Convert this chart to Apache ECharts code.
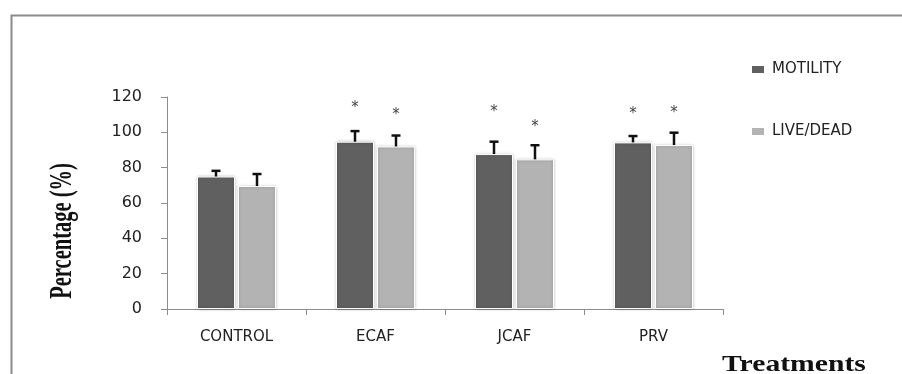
<!DOCTYPE html>
<html>
<head>
<meta charset="utf-8">
<script src="https://cdn.jsdelivr.net/npm/echarts@6/dist/echarts.min.js"></script>
<style>
html,body{margin:0;padding:0;background:#fff;}
#chart{width:902px;height:374px;}
</style>
</head>
<body>
<div id="chart"></div>
<script>
// ---- data ----
const categories = ['CONTROL', 'ECAF', 'JCAF', 'PRV'];
const seriesNames = ['MOTILITY', 'LIVE/DEAD'];
const motility = [75, 94.7, 87.7, 94.3];
const liveDead = [69.6, 92, 84.7, 92.8];
const motilityErr = [3.2, 6, 7, 3.6];
const liveDeadErr = [6.8, 6.2, 8, 7];
// y-position (in axis units) of the significance asterisks, null = none
const motilityStar = [null, 115.5, 113.2, 112.1];
const liveDeadStar = [null, 111.5, 104.5, 112.6];
const yTicks = [0, 20, 40, 60, 80, 100, 120];
const yTitle = 'Percentage (%)';
const xTitle = 'Treatments';

// ---- style ----
const colors = ['#606060', '#b3b3b3'];
const BAR_W = 38;
const BAR_GAP_PX = 3;
const OFFSET = (BAR_W + BAR_GAP_PX) / 2;

const chart = echarts.init(document.getElementById('chart'), null, {renderer: 'canvas'});

function errItem(dir) {
  return function (params, api) {
    const i = api.value(0);
    const v = api.value(1);
    const e = api.value(2);
    const p0 = api.coord([i, v]);
    const p1 = api.coord([i, v + e]);
    const x = p0[0] + dir * OFFSET;
    return {
      type: 'group',
      children: [
        {type: 'line', shape: {x1: x, y1: p0[1], x2: x, y2: p1[1]},
         style: {stroke: '#111', lineWidth: 2.5}},
        {type: 'line', shape: {x1: x - 4.5, y1: p1[1], x2: x + 4.5, y2: p1[1]},
         style: {stroke: '#111', lineWidth: 2.5}}
      ]
    };
  };
}
function starItem(dir) {
  return function (params, api) {
    const i = api.value(0);
    const y = api.value(1);
    const p = api.coord([i, y]);
    return {
      type: 'text',
      x: p[0] + dir * OFFSET,
      y: p[1] + 3,
      style: {text: '*', fill: '#444', font: '15px "DejaVu Sans"', align: 'center', verticalAlign: 'middle'}
    };
  };
}

const errDataM = categories.map((c, i) => [i, motility[i], motilityErr[i]]);
const errDataL = categories.map((c, i) => [i, liveDead[i], liveDeadErr[i]]);
const starDataM = categories.map((c, i) => [i, motilityStar[i]]).filter(d => d[1] != null);
const starDataL = categories.map((c, i) => [i, liveDeadStar[i]]).filter(d => d[1] != null);

const barItemStyle = (c) => ({
  color: c, borderColor: '#ffffff', borderWidth: 1,
  shadowBlur: 3, shadowColor: 'rgba(0,0,0,0.25)', shadowOffsetX: 0, shadowOffsetY: 0
});

const option = {
  animation: false,
  backgroundColor: '#ffffff',
  grid: {left: 167, right: 179, top: 97, bottom: 65, containLabel: false},
  legend: {
    data: seriesNames,
    orient: 'vertical',
    left: 745, top: 57,
    itemWidth: 14, itemHeight: 9, itemGap: 47,
    icon: 'rect',
    textStyle: {fontFamily: 'DejaVu Sans', fontSize: 15, color: '#222', padding: [0, 0, 0, 2]}
  },
  xAxis: {
    type: 'category',
    data: categories,
    boundaryGap: true,
    axisLine: {lineStyle: {color: '#8c8c8c', width: 1}},
    axisTick: {show: true, length: 6, alignWithLabel: false, lineStyle: {color: '#8c8c8c'}},
    axisLabel: {fontFamily: 'DejaVu Sans', fontSize: 15, color: '#222', margin: 21}
  },
  yAxis: {
    type: 'value',
    min: yTicks[0], max: yTicks[yTicks.length - 1], interval: yTicks[1] - yTicks[0],
    axisLine: {show: true, lineStyle: {color: '#8c8c8c', width: 1}},
    axisTick: {show: true, length: 6, lineStyle: {color: '#8c8c8c'}},
    splitLine: {show: false},
    axisLabel: {fontFamily: 'DejaVu Sans', fontSize: 16, color: '#222', margin: 25}
  },
  graphic: [
    {type: 'rect', left: 9, top: 13, z: -10,
     shape: {x: 0, y: 0, width: 1000, height: 500},
     style: {fill: 'none', stroke: '#8a8a8a', lineWidth: 2}},
    {type: 'text', x: 63, y: 231, rotation: Math.PI / 2, scaleX: 0.64, scaleY: 1,
     style: {text: yTitle, font: 'bold 32px "Liberation Serif"', fill: '#111',
             align: 'center', verticalAlign: 'middle'}},
    {type: 'text', x: 722, y: 365, scaleX: 1.29, scaleY: 1,
     style: {text: xTitle, font: 'bold 23px "Liberation Serif"', fill: '#111',
             align: 'left', verticalAlign: 'middle'}}
  ],
  series: [
    {name: seriesNames[0], type: 'bar', data: motility, barWidth: BAR_W, barGap: (BAR_GAP_PX / BAR_W * 100) + '%',
     itemStyle: barItemStyle(colors[0])},
    {name: seriesNames[1], type: 'bar', data: liveDead, barWidth: BAR_W,
     itemStyle: barItemStyle(colors[1])},
    {type: 'custom', renderItem: errItem(-1), data: errDataM, z: 5, encode: {x: 0, y: 1}},
    {type: 'custom', renderItem: errItem(1), data: errDataL, z: 5, encode: {x: 0, y: 1}},
    {type: 'custom', renderItem: starItem(-1), data: starDataM, z: 5, encode: {x: 0, y: 1}},
    {type: 'custom', renderItem: starItem(1), data: starDataL, z: 5, encode: {x: 0, y: 1}}
  ]
};
chart.setOption(option);
</script>
</body>
</html>
